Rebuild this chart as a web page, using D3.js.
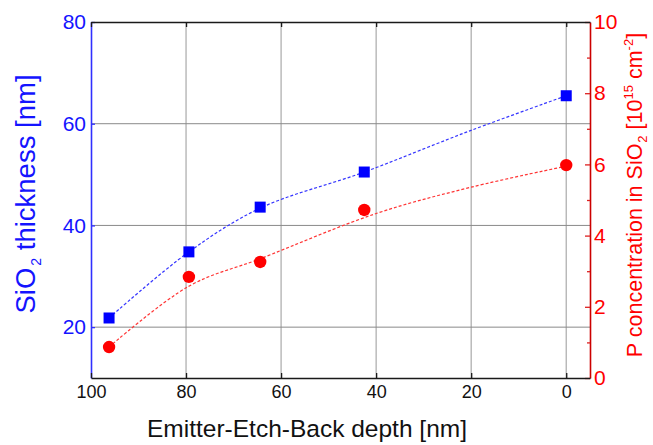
<!DOCTYPE html>
<html><head><meta charset="utf-8">
<script src="https://cdn.jsdelivr.net/npm/d3@7"></script>
<style>body{margin:0;background:#fff} text{font-family:"Liberation Sans",Arial,sans-serif}</style>
</head><body><svg id="c" width="653" height="445"></svg>
<script>
// data
const depth = [96.2, 79.4, 64.4, 42.5, 0];
const thickness = [21.8, 34.8, 43.6, 50.5, 65.5];
const pConc = [0.87, 2.84, 3.26, 4.72, 5.98];
const thicknessFitDepth = [96.2, 79.4, 64.4, 42.5, 20, 0];
const thicknessFit = [21.8, 34.8, 43.4, 50.5, 58.7, 65.5];
const pFitDepth = [96.2, 79.4, 64.4, 40, 20, 0];
const pFit = [0.87, 2.58, 3.35, 4.62, 5.36, 5.95];
const xTicks = [100, 80, 60, 40, 20, 0];
const yLeftTicks = [20, 40, 60, 80];
const yRightTicks = [0, 2, 4, 6, 8, 10];
const yRightMinor = [1, 3, 5, 7, 9];

const svg = d3.select("#c");
const L = 91, R = 590, T = 22, B = 378;
const x = d3.scaleLinear().domain([100, -5]).range([L, R]);
const yL = d3.scaleLinear().domain([10, 80]).range([B, T]);
const yR = d3.scaleLinear().domain([0, 10]).range([B, T]);

// grid
svg.append("g").selectAll("line").data(xTicks.filter(d => d !== 100)).join("line")
  .attr("x1", d => x(d)).attr("x2", d => x(d)).attr("y1", T).attr("y2", B)
  .attr("stroke", "#b0b0b0").attr("stroke-width", 1.3);
svg.append("g").selectAll("line").data(yLeftTicks.filter(d => d !== 80)).join("line")
  .attr("x1", L).attr("x2", R).attr("y1", d => yL(d)).attr("y2", d => yL(d))
  .attr("stroke", "#8a8a8a").attr("stroke-width", 1);

// axes
const gl = svg.append("g").attr("transform", `translate(${L},0)`)
  .call(d3.axisLeft(yL).tickValues(yLeftTicks).tickSize(-4).tickSizeOuter(0).tickPadding(5));
gl.select(".domain").attr("stroke", "#3030ff").attr("stroke-width", 1.6);
gl.selectAll(".tick line").attr("stroke", "#3030ff").attr("stroke-width", 1.3);
gl.selectAll(".tick text").attr("fill", "#1414ff").style("font-size", "21px");

const gr = svg.append("g").attr("transform", `translate(${R},0)`)
  .call(d3.axisRight(yR).tickValues(yRightTicks).tickSize(-5).tickSizeOuter(0).tickPadding(4));
gr.select(".domain").attr("stroke", "#cc0000").attr("stroke-width", 1.6);
gr.selectAll(".tick line").attr("stroke", "#dd2020").attr("stroke-width", 1.3);
gr.selectAll(".tick text").attr("fill", "#ff0000").style("font-size", "21px");
const grm = svg.append("g").attr("transform", `translate(${R},0)`)
  .call(d3.axisRight(yR).tickValues(yRightMinor).tickSize(-3).tickSizeOuter(0).tickFormat(""));
grm.select(".domain").remove();
grm.selectAll(".tick line").attr("stroke", "#dd2020").attr("stroke-width", 1.3);

const gt = svg.append("g").attr("transform", `translate(0,${T})`)
  .call(d3.axisTop(x).tickValues(xTicks).tickSize(-5).tickSizeOuter(0).tickFormat(""));
gt.select(".domain").attr("stroke", "#1a1a1a").attr("stroke-width", 1.6);
gt.selectAll(".tick line").attr("stroke", "#1a1a1a").attr("stroke-width", 1.3);

const gb = svg.append("g").attr("transform", `translate(0,${B})`)
  .call(d3.axisBottom(x).tickValues(xTicks).tickSize(-5).tickSizeOuter(0).tickPadding(7));
gb.select(".domain").attr("stroke", "#1a1a1a").attr("stroke-width", 1.6);
gb.selectAll(".tick line").attr("stroke", "#1a1a1a").attr("stroke-width", 1.3);
gb.selectAll(".tick text").attr("fill", "#111").style("font-size", "18px");

// fit lines
const lineT = d3.line().x(d => x(d[0])).y(d => yL(d[1])).curve(d3.curveCatmullRom.alpha(0.5));
const lineP = d3.line().x(d => x(d[0])).y(d => yR(d[1])).curve(d3.curveCatmullRom.alpha(0.5));
svg.append("path").datum(d3.zip(thicknessFitDepth, thicknessFit)).attr("d", lineT)
  .attr("fill", "none").attr("stroke", "#3535ff").attr("stroke-width", 1.2).attr("stroke-dasharray", "3,2");
svg.append("path").datum(d3.zip(pFitDepth, pFit)).attr("d", lineP)
  .attr("fill", "none").attr("stroke", "#ff3535").attr("stroke-width", 1.2).attr("stroke-dasharray", "3,2");

// markers
const s = 11;
svg.append("g").selectAll("rect").data(d3.zip(depth, thickness)).join("rect")
  .attr("x", d => x(d[0]) - s / 2).attr("y", d => yL(d[1]) - s / 2)
  .attr("width", s).attr("height", s).attr("fill", "#0000ff");
svg.append("g").selectAll("circle").data(d3.zip(depth, pConc)).join("circle")
  .attr("cx", d => x(d[0])).attr("cy", d => yR(d[1])).attr("r", 6.2).attr("fill", "#ff0000");

// axis titles
svg.append("text").attr("x", 307).attr("y", 437).attr("text-anchor", "middle")
  .style("font-size", "24.5px").attr("fill", "#111").text("Emitter-Etch-Back depth [nm]");

const lt = svg.append("text").attr("transform", "translate(35,194) rotate(-90)")
  .attr("text-anchor", "middle").style("font-size", "27.5px").attr("fill", "#1414ff");
lt.append("tspan").text("SiO");
lt.append("tspan").attr("dy", 6).attr("dx", 2).style("font-size", "14px").text("2");
lt.append("tspan").attr("dy", -6).text(" thickness [nm]");

const rt = svg.append("text").attr("transform", "translate(642,195) rotate(-90)")
  .attr("text-anchor", "middle").style("font-size", "21.5px").attr("fill", "#ff0000");
rt.append("tspan").text("P concentration in SiO");
rt.append("tspan").attr("dy", 5).attr("dx", 1).style("font-size", "13px").text("2");
rt.append("tspan").attr("dy", -5).text(" [10");
rt.append("tspan").attr("dy", -9).style("font-size", "13px").text("15");
rt.append("tspan").attr("dy", 9).text(" cm");
rt.append("tspan").attr("dy", -9).style("font-size", "13px").text("-2");
rt.append("tspan").attr("dy", 9).text("]");
</script></body></html>
